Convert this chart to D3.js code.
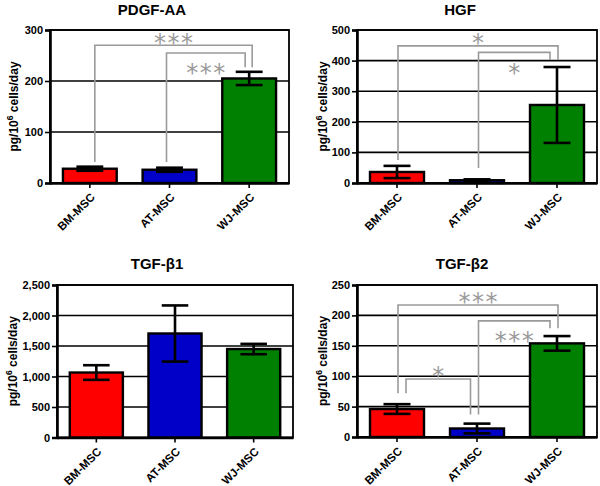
<!DOCTYPE html>
<html>
<head>
<meta charset="utf-8">
<script src="https://cdn.jsdelivr.net/npm/d3@7"></script>
<style>
  html, body { margin: 0; padding: 0; background: #fff; }
  svg { display: block; font-family: "Liberation Sans", Arial, sans-serif; }
</style>
</head>
<body>
<svg id="chart" width="600" height="486"></svg>
<script>
// ---------- data ----------
const categories = ["BM-MSC", "AT-MSC", "WJ-MSC"];
const titles = ["PDGF-AA", "HGF", "TGF-\u03b21", "TGF-\u03b22"];

const pdgfMean = [28, 26, 205];
const pdgfErr  = [4, 4, 13];
const hgfMean  = [36, 9, 255];
const hgfErr   = [20, 3, 124];
const tgfb1Mean = [1065, 1705, 1450];
const tgfb1Err  = [120, 460, 85];
const tgfb2Mean = [46, 14, 154];
const tgfb2Err  = [8, 8, 12];

const pdgfTicks  = [0, 100, 200, 300];
const hgfTicks   = [0, 100, 200, 300, 400, 500];
const tgfb1Ticks = [0, 500, 1000, 1500, 2000, 2500];
const tgfb2Ticks = [0, 50, 100, 150, 200, 250];

// significance brackets: [fromIndex, toIndex, level, fromLegEnd, toLegEnd, label, labelSide]
const pdgfSig  = [[0, 2, 270, 41, 227, "***", "above"], [1, 2, 255, 41, 227, "***", "below"]];
const hgfSig   = [[0, 2, 448, 75, 402, "*", "above"], [1, 2, 427, 49, 402, "*", "below"]];
const tgfb1Sig = [];
const tgfb2Sig = [[0, 2, 217, 72, 179, "***", "above"], [1, 2, 191, 37, 179, "***", "below"], [0, 1, 95.5, 72, 37, "*", "above"]];

// ---------- layout / style ----------
const barColors = ["#ff0000", "#0000c8", "#008000"];
const sigColor = "#9a9a9a";
const panels = [
  { title: titles[0], mean: pdgfMean, err: pdgfErr, ticks: pdgfTicks, sig: pdgfSig, fmt: d3.format("d"),
    l: 50, r: 289, t: 30, b: 183, tx: 152, ty: 15, lx: 14,
    legDx: [[5, 3], [-3, -4]] },
  { title: titles[1], mean: hgfMean, err: hgfErr, ticks: hgfTicks, sig: hgfSig, fmt: d3.format("d"),
    l: 357, r: 597, t: 30, b: 183, tx: 460, ty: 15, lx: 323,
    legDx: [[1, 1], [1.5, -7]] },
  { title: titles[2], mean: tgfb1Mean, err: tgfb1Err, ticks: tgfb1Ticks, sig: tgfb1Sig, fmt: d3.format(","),
    l: 57, r: 293, t: 285, b: 437.5, tx: 157, ty: 269, lx: 13,
    legDx: [] },
  { title: titles[3], mean: tgfb2Mean, err: tgfb2Err, ticks: tgfb2Ticks, sig: tgfb2Sig, fmt: d3.format("d"),
    l: 357, r: 597, t: 285, b: 437, tx: 462, ty: 269, lx: 323,
    legDx: [[1, 1], [1.5, -7], [9, -6.5]] }
];

const svg = d3.select("#chart");

panels.forEach(p => {
  const g = svg.append("g");
  const x = d3.scaleBand().domain(categories).range([p.l, p.r]).paddingInner(0.325).paddingOuter(0.1625);
  const y = d3.scaleLinear().domain([0, p.ticks[p.ticks.length - 1]]).range([p.b, p.t]);

  // title
  g.append("text").attr("x", p.tx).attr("y", p.ty).attr("text-anchor", "middle")
    .attr("font-size", 15).attr("font-weight", "bold").attr("fill", "#000").text(p.title);

  // y-axis label
  const yl = g.append("g").attr("transform", `translate(${p.lx},${(p.t + p.b) / 2}) rotate(-90)`)
    .append("text")
    .attr("text-anchor", "middle").attr("font-size", 12).attr("font-weight", "bold").attr("dy", "0.35em");
  yl.append("tspan").text("pg/10");
  yl.append("tspan").attr("font-size", 8.5).attr("dy", -5).text("6");
  yl.append("tspan").attr("dy", 5).text(" cells/day");

  // gridlines
  g.append("g").selectAll("line").data(p.ticks).join("line")
    .attr("x1", p.l).attr("x2", p.r).attr("y1", d => y(d)).attr("y2", d => y(d))
    .attr("stroke", "#000").attr("stroke-width", 1.6);

  // border (right & top)
  g.append("rect").attr("x", p.l).attr("y", p.t).attr("width", p.r - p.l).attr("height", p.b - p.t)
    .attr("fill", "none").attr("stroke", "#000").attr("stroke-width", 1.8);

  // significance brackets (behind bars)
  p.sig.forEach((s, i) => {
    const [fi, ti, level, fEnd, tEnd, label, side] = s;
    const dx = p.legDx[i];
    const x1 = x(categories[fi]) + x.bandwidth() / 2 + dx[0];
    const x2 = x(categories[ti]) + x.bandwidth() / 2 + dx[1];
    g.append("path")
      .attr("d", `M${x1},${y(fEnd)}V${y(level)}H${x2}V${y(tEnd)}`)
      .attr("fill", "none").attr("stroke", sigColor).attr("stroke-width", 1.6);
    const fs = 24;
    const cy = side === "above" ? y(level) - 8 : y(level) + 15;
    const ls = label.length > 1 ? 1.5 : 0;
    g.append("text").attr("x", (x1 + x2) / 2 + ls / 2).attr("y", cy + fs * 0.55)
      .attr("text-anchor", "middle").attr("font-size", fs).attr("fill", sigColor)
      .attr("font-family", "'DejaVu Sans', sans-serif")
      .attr("letter-spacing", ls).text(label);
  });

  // bars
  g.append("g").selectAll("rect").data(p.mean).join("rect")
    .attr("x", (d, i) => x(categories[i]))
    .attr("y", d => y(d))
    .attr("width", x.bandwidth())
    .attr("height", d => y(0) - y(d))
    .attr("fill", (d, i) => barColors[i])
    .attr("stroke", "#000").attr("stroke-width", 2.4);

  // error bars
  const eb = g.append("g").attr("stroke", "#000").attr("stroke-width", 2.6);
  p.mean.forEach((m, i) => {
    const cx = x(categories[i]) + x.bandwidth() / 2;
    const hw = x.bandwidth() / 4;
    const hi = y(m + p.err[i]), lo = y(m - p.err[i]);
    eb.append("line").attr("x1", cx).attr("x2", cx).attr("y1", hi).attr("y2", lo);
    eb.append("line").attr("x1", cx - hw).attr("x2", cx + hw).attr("y1", hi).attr("y2", hi);
    eb.append("line").attr("x1", cx - hw).attr("x2", cx + hw).attr("y1", lo).attr("y2", lo);
  });

  // y axis
  const ya = g.append("g").attr("transform", `translate(${p.l},0)`)
    .call(d3.axisLeft(y).tickValues(p.ticks).tickFormat(p.fmt).tickSize(5).tickPadding(2));
  ya.select(".domain").attr("stroke-width", 2.6);
  ya.selectAll(".tick line").attr("stroke-width", 1.6);
  ya.selectAll("text").attr("font-size", 11).attr("font-weight", "bold")
    .attr("font-family", "'Liberation Sans', Arial, sans-serif").attr("fill", "#000");

  // x axis (ticks only; labels drawn rotated below)
  const xa = g.append("g").attr("transform", `translate(0,${p.b})`)
    .call(d3.axisBottom(x).tickSize(5).tickSizeOuter(0).tickFormat(""));
  xa.select(".domain").attr("stroke-width", 2.6);
  xa.selectAll(".tick line").attr("stroke-width", 1.6);

  const lab = g.append("g").selectAll("g").data(categories).join("g")
    .attr("transform", d => `translate(${x(d) + x.bandwidth() / 2 + 3},${p.b + 12})`);
  lab.append("g").attr("transform", "rotate(-45)")
    .append("text")
    .attr("text-anchor", "end").attr("dy", "0.35em")
    .attr("font-size", 11.5).attr("font-weight", "bold").attr("fill", "#000")
    .text(d => d);
});
</script>
</body>
</html>
